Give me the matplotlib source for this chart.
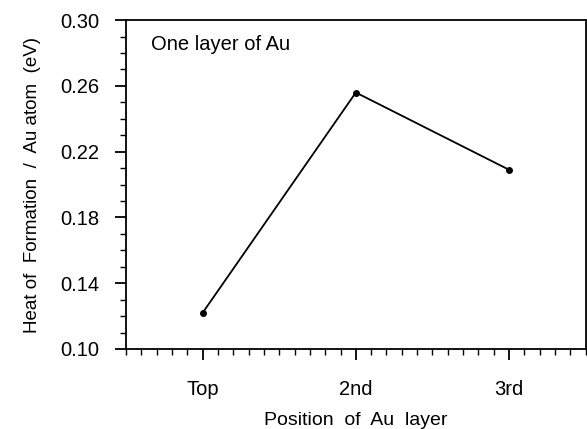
import matplotlib
matplotlib.use('Agg')
import matplotlib.pyplot as plt
from matplotlib.ticker import MultipleLocator

plt.rcParams['font.family'] = ['Liberation Sans', 'DejaVu Sans']

# Heat of formation for one Au layer at different positions
positions = ['Top', '2nd', '3rd']
heat = [0.122, 0.256, 0.209]
x_pos = [1, 2, 3]

fig = plt.figure(figsize=(5.87, 4.29), dpi=100)
ax = fig.add_axes([0.2147, 0.1865, 0.783, 0.7665])

ax.plot(x_pos, heat, color='black', linewidth=1.3, marker='o', markersize=4)

ax.set_xlim(0.5, 3.5)
ax.set_ylim(0.10, 0.30)
ax.set_xticks(x_pos)
ax.set_xticklabels(positions)
ax.set_yticks([0.10, 0.14, 0.18, 0.22, 0.26, 0.30])
ax.set_yticklabels(['0.10', '0.14', '0.18', '0.22', '0.26', '0.30'])
ax.xaxis.set_minor_locator(MultipleLocator(0.1))
ax.yaxis.set_minor_locator(MultipleLocator(0.01))

ax.tick_params(axis='both', which='major', direction='out', length=8, width=1.3,
               labelsize=14.5, color='black')
ax.tick_params(axis='both', which='minor', direction='out', length=4, width=1.0)
ax.tick_params(axis='y', which='major', pad=11)
ax.tick_params(axis='x', which='major', pad=14, labelsize=14.5)

for s in ax.spines.values():
    s.set_linewidth(1.3)

ax.set_xlabel('Position  of  Au  layer', fontsize=14, labelpad=10)
ax.set_ylabel('Heat of  Formation  /  Au atom  (eV)', fontsize=13.5, labelpad=14)
ax.text(0.055, 0.925, 'One layer of Au', transform=ax.transAxes, fontsize=14.5,
        ha='left', va='center')

fig.savefig('out.png', dpi=100)
